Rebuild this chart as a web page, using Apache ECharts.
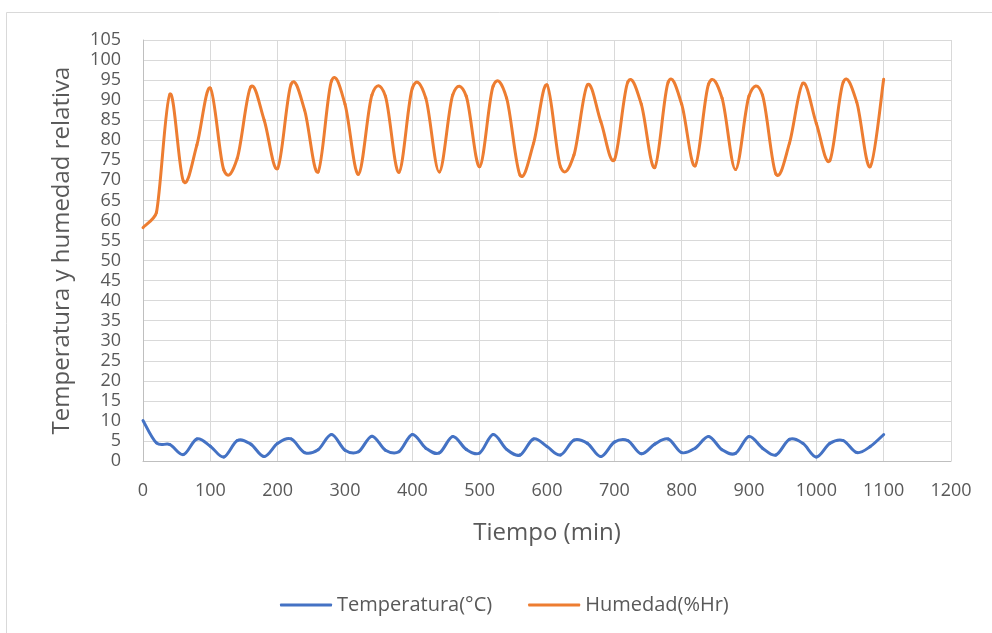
<!DOCTYPE html>
<html>
<head>
<meta charset="utf-8">
<script src="https://cdn.jsdelivr.net/npm/echarts@6/dist/echarts.min.js"></script>
<style>
  html, body { margin: 0; padding: 0; background: #fff; }
  #chart { width: 992px; height: 633px; }
</style>
</head>
<body>
<div id="chart"></div>
<script>
// Sampling times (min), one reading every 20 minutes
const tiempo = [
  0, 20, 40, 60, 80, 100, 120, 140, 160, 180,
  200, 220, 240, 260, 280, 300, 320, 340, 360, 380,
  400, 420, 440, 460, 480, 500, 520, 540, 560, 580,
  600, 620, 640, 660, 680, 700, 720, 740, 760, 780,
  800, 820, 840, 860, 880, 900, 920, 940, 960, 980,
  1000, 1020, 1040, 1060, 1080, 1100
];

// Temperature readings (°C)
const temperatura = [
  10.1, 4.5, 4.1, 1.6, 5.5, 3.7, 1.0, 5.1, 4.2, 1.1,
  4.4, 5.5, 2.1, 2.8, 6.6, 2.7, 2.3, 6.2, 2.7, 2.3,
  6.6, 3.2, 2.0, 6.1, 2.9, 2.0, 6.6, 2.9, 1.5, 5.5,
  3.6, 1.5, 5.2, 4.4, 1.1, 4.7, 5.1, 1.8, 4.2, 5.5,
  2.1, 3.2, 6.1, 2.8, 1.9, 6.1, 3.2, 1.5, 5.4, 4.4,
  1.0, 4.4, 5.1, 2.1, 3.6, 6.6
];

// Relative humidity readings (%Hr)
const humedad = [
  58.2, 62.0, 91.5, 69.8, 78.8, 93.0, 72.6, 75.5, 93.3, 85.0,
  73.0, 94.0, 87.5, 72.1, 94.8, 89.0, 71.5, 91.3, 91.0, 72.0,
  93.0, 90.5, 72.1, 91.3, 91.0, 73.4, 93.5, 90.5, 71.3, 79.2,
  93.8, 73.4, 76.3, 93.8, 84.6, 75.1, 94.5, 89.0, 73.2, 94.5,
  89.0, 73.6, 94.0, 90.5, 72.7, 91.0, 91.3, 71.6, 79.2, 94.2,
  84.2, 74.9, 94.5, 89.5, 73.4, 95.2
];

const xTicks = { min: 0, max: 1200, step: 100 };
const yTicks = { min: 0, max: 105, step: 5 };

const pair = (xs, ys) => xs.map((x, i) => [x, ys[i]]);

const FONT = 'Open Sans';
const TEXT = '#595959';

// Shorten a control arm so it is no longer than maxLen pixels.
function capArm(dx, dy, maxLen) {
  const len = Math.hypot(dx, dy);
  if (len <= maxLen || len === 0) return [dx, dy];
  const k = maxLen / len;
  return [dx * k, dy * k];
}

// Smoothed line: each data item draws the cubic segment to the next reading,
// with control points taken from the neighbouring readings (Catmull-Rom style).
// On the first and last segment the inner arm is kept short so the curve
// does not swing back near the ends.
function smoothSegment(xs, ys, color) {
  const n = xs.length;
  return function (params, api) {
    const i = params.dataIndex;
    if (i >= n - 1) return null;
    const P = j => {
      const k = Math.max(0, Math.min(n - 1, j));
      return api.coord([xs[k], ys[k]]);
    };
    const p0 = P(i - 1), p1 = P(i), p2 = P(i + 1), p3 = P(i + 2);
    const segLen = Math.hypot(p2[0] - p1[0], p2[1] - p1[1]);
    let a1 = [(p2[0] - p0[0]) / 6, (p2[1] - p0[1]) / 6];
    let a2 = [(p3[0] - p1[0]) / 6, (p3[1] - p1[1]) / 6];
    if (i === 0) a2 = capArm(a2[0], a2[1], segLen / 3);
    if (i === n - 2) a1 = capArm(a1[0], a1[1], segLen / 3);
    return {
      type: 'bezierCurve',
      shape: {
        x1: p1[0], y1: p1[1],
        x2: p2[0], y2: p2[1],
        cpx1: p1[0] + a1[0], cpy1: p1[1] + a1[1],
        cpx2: p2[0] - a2[0], cpy2: p2[1] - a2[1]
      },
      style: { stroke: color, lineWidth: 3, fill: null, lineCap: 'round', lineJoin: 'round' },
      silent: true
    };
  };
}

const chart = echarts.init(document.getElementById('chart'), null, { renderer: 'canvas' });

chart.setOption({
  backgroundColor: '#ffffff',
  animation: false,
  textStyle: { fontFamily: FONT, color: TEXT },
  graphic: [{
    type: 'rect',
    left: 4, top: 10,
    shape: { x: 0, y: 0, width: 1000, height: 640 },
    style: { fill: 'none', stroke: '#d9d9d9', lineWidth: 1 },
    silent: true, z: -10
  }],
  grid: { left: 143, right: 41, top: 40, bottom: 172, containLabel: false },
  legend: {
    bottom: 18,
    left: 280,
    padding: 0,
    itemWidth: 52,
    itemHeight: 3,
    itemGap: 36,
    icon: 'roundRect',
    textStyle: { fontFamily: FONT, fontSize: 20, color: TEXT },
    data: ['Temperatura(°C)', 'Humedad(%Hr)']
  },
  xAxis: {
    type: 'value',
    min: xTicks.min, max: xTicks.max, interval: xTicks.step,
    name: 'Tiempo (min)',
    nameLocation: 'middle',
    nameGap: 60,
    nameTextStyle: { fontFamily: FONT, fontSize: 24, color: TEXT },
    axisLine: { show: true, lineStyle: { color: '#bfbfbf', width: 1 } },
    axisTick: { show: false },
    axisLabel: { margin: 21, fontFamily: FONT, fontSize: 18, color: TEXT, formatter: v => String(v) },
    splitLine: { show: true, lineStyle: { color: '#d9d9d9', width: 1 } }
  },
  yAxis: {
    type: 'value',
    min: yTicks.min, max: yTicks.max, interval: yTicks.step,
    name: 'Temperatura y humedad relativa',
    nameLocation: 'middle',
    nameGap: 69,
    nameTextStyle: { fontFamily: FONT, fontSize: 24, color: TEXT },
    axisLine: { show: true, lineStyle: { color: '#bfbfbf', width: 1 } },
    axisTick: { show: false },
    axisLabel: { margin: 22, fontFamily: FONT, fontSize: 18, color: TEXT, formatter: v => String(v) },
    splitLine: { show: true, lineStyle: { color: '#d9d9d9', width: 1 } }
  },
  series: [
    {
      name: 'Temperatura(°C)',
      type: 'custom',
      coordinateSystem: 'cartesian2d',
      data: pair(tiempo, temperatura),
      encode: { x: 0, y: 1 },
      renderItem: smoothSegment(tiempo, temperatura, '#4472C4'),
      itemStyle: { color: '#4472C4' },
      z: 3
    },
    {
      name: 'Humedad(%Hr)',
      type: 'custom',
      coordinateSystem: 'cartesian2d',
      data: pair(tiempo, humedad),
      encode: { x: 0, y: 1 },
      renderItem: smoothSegment(tiempo, humedad, '#ED7D31'),
      itemStyle: { color: '#ED7D31' },
      z: 3
    }
  ]
});
</script>
</body>
</html>
